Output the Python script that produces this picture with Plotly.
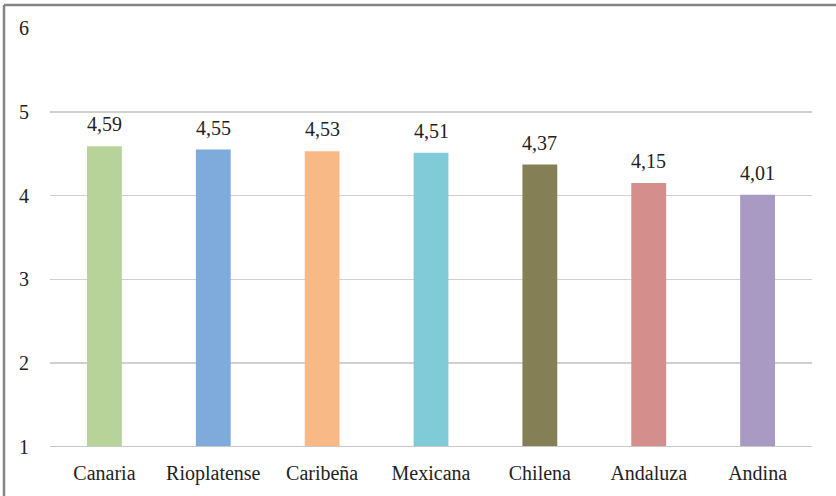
import plotly.graph_objects as go

categories = ["Canaria", "Rioplatense", "Caribeña", "Mexicana", "Chilena", "Andaluza", "Andina"]
values = [4.59, 4.55, 4.53, 4.51, 4.37, 4.15, 4.01]
labels = ["4,59", "4,55", "4,53", "4,51", "4,37", "4,15", "4,01"]
colors = ["#B7D39A", "#7EABDC", "#F9B987", "#80CBD8", "#857F55", "#D48E8C", "#A99AC3"]

W, H = 836, 496
L, R, T, B = 50, 24, 28, 49
pw, ph = W - L - R, H - T - B
FONT = "Liberation Serif"

fig = go.Figure(go.Bar(
    x=categories, y=[v - 1 for v in values], base=1,
    marker=dict(color=colors, line=dict(width=0)),
    width=0.32, hoverinfo="skip",
))

for c, v, t in zip(categories, values, labels):
    fig.add_annotation(x=c, y=v, text=t, showarrow=False, yanchor="bottom", yshift=9,
                       font=dict(family=FONT, size=20, color="#222222"))

fig.update_layout(
    width=W, height=H,
    margin=dict(l=L, r=R, t=T, b=B, autoexpand=False),
    paper_bgcolor="white", plot_bgcolor="white",
    showlegend=False,
    font=dict(family=FONT, size=20, color="#222222"),
    xaxis=dict(showgrid=False, showline=False, ticks="", automargin=False,
               tickfont=dict(size=20), ticklabelstandoff=12),
    yaxis=dict(range=[1, 6], dtick=1, tick0=1, showgrid=True, gridcolor="#D0D0D0", gridwidth=1.5,
               zeroline=False, showline=False, ticks="", automargin=False,
               tickfont=dict(size=20), ticklabelstandoff=20),
)
# bottom axis line at y=1
fig.add_shape(type="line", xref="paper", yref="y", x0=0, x1=1, y0=1, y1=1,
              line=dict(color="#C8C8C8", width=2))
# outer border (top and left)
fig.add_shape(type="line", xref="paper", yref="paper",
              x0=(4 - L) / pw, x1=(W + 5 - L) / pw, y0=(H - 5 - B) / ph, y1=(H - 5 - B) / ph,
              line=dict(color="#858585", width=2.5))
fig.add_shape(type="line", xref="paper", yref="paper",
              x0=(4 - L) / pw, x1=(4 - L) / pw, y0=(H - 5 - B) / ph, y1=-(B + 5) / ph,
              line=dict(color="#858585", width=2.5))

fig.write_html("out.html", config={"displayModeBar": False, "staticPlot": True},
               post_script="document.body.style.margin='0';")
